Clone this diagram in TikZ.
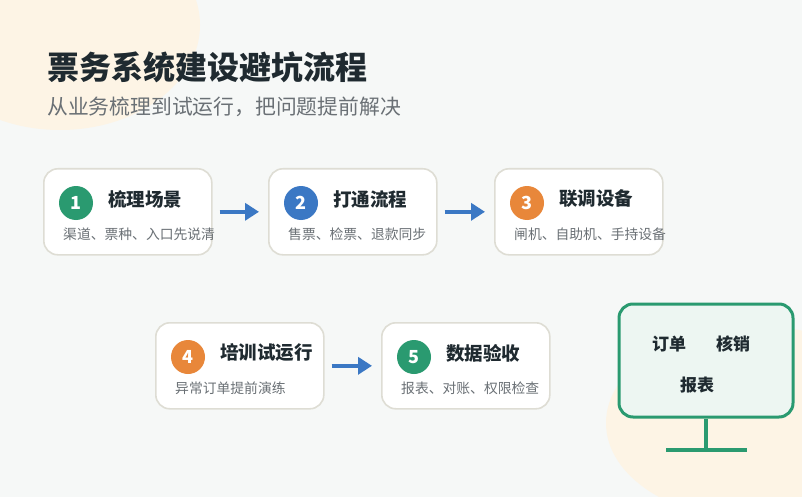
\documentclass[tikz,border=0pt]{standalone}
\usepackage{fontspec}
\setmainfont{Noto Sans CJK SC}
\usetikzlibrary{arrows.meta,calc}
\definecolor{bg}{HTML}{F6F8F7}
\definecolor{cream}{HTML}{FDF4E5}
\definecolor{cardline}{HTML}{DEDDD4}
\definecolor{ink}{HTML}{1F2A30}
\definecolor{gray}{HTML}{6A7075}
\definecolor{cgreen}{HTML}{2A9A70}
\definecolor{cblue}{HTML}{3B78C4}
\definecolor{corange}{HTML}{E8873A}
\definecolor{mint}{HTML}{EDF6F2}
\newcommand\flowcard[7]{%
  \node[card, anchor=north west] (#1) at (#2,#3) {};
  \node[numc, fill=#5] (#1n) at ($(#1.north west)+(33,35)$) {#4};
  \node[ttl] (#1t) at ($(#1.north west)+(65,31)$) {#6};
  \node[subt] (#1s) at ($(#1.north west)+(20,66)$) {#7};
}
\begin{document}
\begin{tikzpicture}[x=1pt,y=-1pt,
  card/.style={draw=cardline, line width=1.6pt, fill=white, rounded corners=14pt, minimum width=168pt, minimum height=86pt, inner sep=0pt},
  numc/.style={circle, minimum size=34pt, inner sep=0pt, text=white, font=\fontsize{18}{20}\selectfont\bfseries},
  ttl/.style={anchor=west, inner sep=0pt, text=ink, font=\fontsize{18.5}{21}\selectfont\bfseries},
  subt/.style={anchor=west, inner sep=0pt, text=gray, font=\fontsize{13.8}{16}\selectfont},
  flow/.style={draw=cblue, line width=3.8pt, -{Triangle[length=14pt,width=17pt]}, shorten <=7pt, shorten >=9pt},
  montxt/.style={inner sep=0pt, text=ink, font=\fontsize{17}{19}\selectfont\bfseries},
  monline/.style={draw=cgreen, line width=3.5pt}
]
\fill[bg] (0,0) rectangle (802,497);
\useasboundingbox (0,0) rectangle (802,497);
\fill[cream] (60,25) ellipse [x radius=140pt, y radius=105pt];
\fill[cream] (756,423) ellipse [x radius=150pt, y radius=97pt];

\node[anchor=west, inner sep=0pt, text=ink, font=\fontsize{32}{36}\selectfont\bfseries] (title) at (47,67) {票务系统建设避坑流程};
\node[anchor=west, inner sep=0pt, text=gray, font=\fontsize{20.8}{24}\selectfont] (subtitle) at (47,107) {从业务梳理到试运行，把问题提前解决};

\flowcard{c1}{43}{168}{1}{cgreen}{梳理场景}{渠道、票种、入口先说清}
\flowcard{c2}{268}{168}{2}{cblue}{打通流程}{售票、检票、退款同步}
\flowcard{c3}{494}{168}{3}{corange}{联调设备}{闸机、自助机、手持设备}
\flowcard{c4}{155}{322}{4}{corange}{培训试运行}{异常订单提前演练}
\flowcard{c5}{381}{322}{5}{cgreen}{数据验收}{报表、对账、权限检查}

\draw[flow] (c1.east) -- (c2.west);
\draw[flow] (c2.east) -- (c3.west);
\draw[flow] (c4.east) -- (c5.west);

\node[draw=cgreen, line width=3pt, fill=mint, rounded corners=14pt, minimum width=174pt, minimum height=113pt, inner sep=0pt] (mon) at (706,360.5) {};
\coordinate (stemend) at (706,450);
\coordinate (baseL) at (666,450);
\coordinate (baseR) at (747,450);
\draw[monline] (mon.south) -- (stemend);
\draw[monline] (baseL) -- (baseR);
\node[montxt] (m1) at (669,344) {订单};
\node[montxt] (m2) at (733,344) {核销};
\node[montxt] (m3) at (697,385) {报表};
\end{tikzpicture}
\end{document}
